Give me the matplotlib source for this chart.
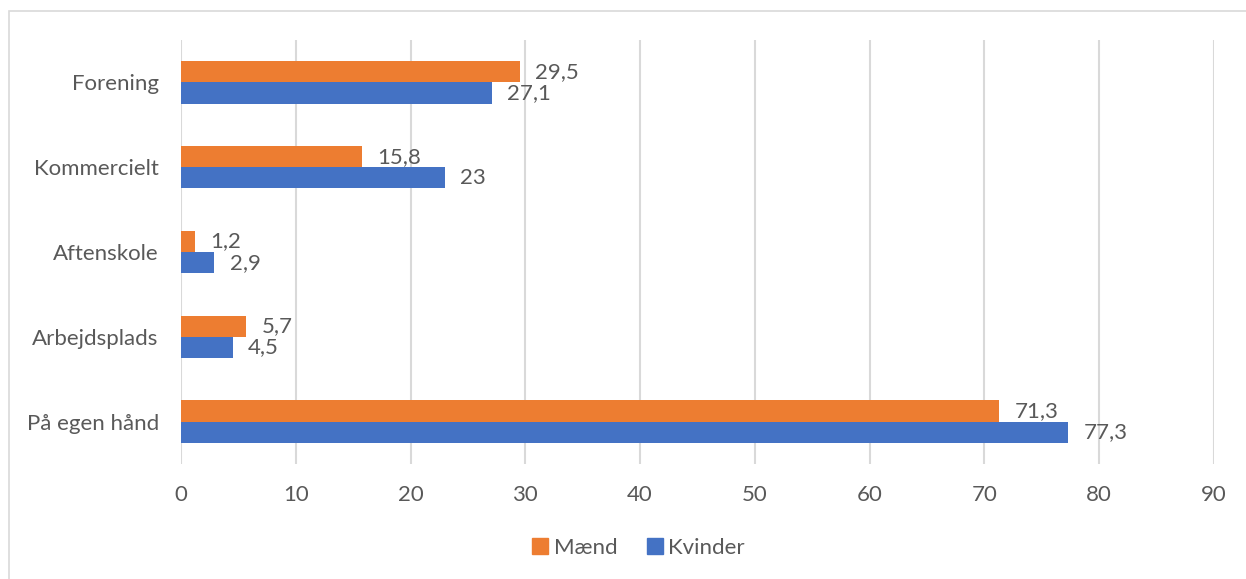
import matplotlib
matplotlib.use("Agg")
import matplotlib.pyplot as plt
from matplotlib.patches import Rectangle
from matplotlib.lines import Line2D
import numpy as np

categories = ["På egen hånd", "Arbejdsplads", "Aftenskole", "Kommercielt", "Forening"]
maend = [71.3, 5.7, 1.2, 15.8, 29.5]
kvinder = [77.3, 4.5, 2.9, 23, 27.1]
xticks = [0, 10, 20, 30, 40, 50, 60, 70, 80, 90]

ORANGE = "#ED7D31"
BLUE = "#4472C4"
TXT = "#595959"
GRID = "#D9D9D9"
FONT = ["Lato", "DejaVu Sans"]
plt.rcParams["font.family"] = FONT
FS = 16

W, H = 1246, 579
fig = plt.figure(figsize=(W / 100, H / 100), dpi=100)
ax = fig.add_axes([181 / W, 1 - 464 / H, (1214 - 181) / W, (464 - 40) / H])

# figure border
fig.patches.append(Rectangle((9 / W, -0.1), 1.2, 1 - 11 / H + 0.1, transform=fig.transFigure,
                             fill=False, edgecolor="#D9D9D9", linewidth=1.2))

y = np.arange(len(categories))
h = 0.25
b1 = ax.barh(y + h / 2, maend, height=h, color=ORANGE, label="Mænd", zorder=3)
b2 = ax.barh(y - h / 2, kvinder, height=h, color=BLUE, label="Kvinder", zorder=3)

def fmt(v):
    return ("%g" % v).replace(".", ",")

for bars, vals in ((b1, maend), (b2, kvinder)):
    for rect, v in zip(bars, vals):
        ax.annotate(fmt(v), (rect.get_width(), rect.get_y() + rect.get_height() / 2),
                    xytext=(11, 0), textcoords="offset points", va="center", ha="left",
                    fontsize=FS, color=TXT)

ax.set_xlim(0, 90)
ax.set_ylim(-0.5, len(categories) - 0.5)
ax.set_xticks(xticks)
ax.set_yticks(y)
ax.set_yticklabels(categories)
ax.tick_params(axis="both", length=0, labelsize=FS, labelcolor=TXT)
ax.tick_params(axis="y", pad=16)
ax.tick_params(axis="x", pad=15)
ax.grid(axis="x", color=GRID, linewidth=1.5, zorder=0)
for s in ax.spines.values():
    s.set_visible(False)

handles = [Line2D([], [], marker="s", linestyle="", markersize=11, color=ORANGE),
           Line2D([], [], marker="s", linestyle="", markersize=11, color=BLUE)]
fig.legend(handles, ["Mænd", "Kvinder"], loc="center", bbox_to_anchor=(637 / W, 1 - 548 / H),
           ncol=2, frameon=False, fontsize=FS, labelcolor=TXT, handletextpad=0.1,
           columnspacing=1.2, handlelength=1.0)

fig.savefig("out.png", dpi=100)
